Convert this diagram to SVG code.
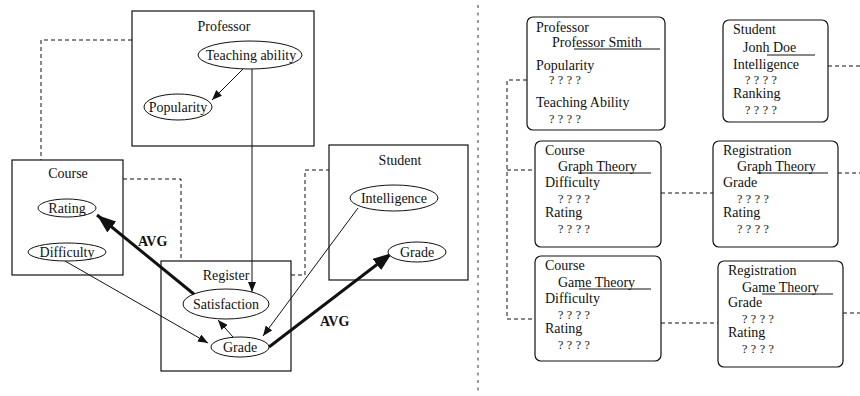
<svg xmlns="http://www.w3.org/2000/svg" width="860" height="396" viewBox="0 0 860 396">
<style>
text{font-family:"Liberation Serif","Times New Roman",serif;font-size:14px;fill:#111}
.c{text-anchor:middle}
.e{text-anchor:middle;dominant-baseline:central}
.b{font-weight:bold}
.q{font-size:12px;letter-spacing:3.5px}
.box{fill:#fff;stroke:#111;stroke-width:1.2}
.card{fill:#fff;stroke:#111;stroke-width:1.2}
.ell{fill:#fff;stroke:#111;stroke-width:1}
.dash{fill:none;stroke:#111;stroke-width:1;stroke-dasharray:4 3}
.thin{fill:none;stroke:#111;stroke-width:1}
.thick{fill:none;stroke:#111;stroke-width:3}
.ul{stroke:#111;stroke-width:1}
</style>
<defs>
<marker id="ah" markerUnits="userSpaceOnUse" markerWidth="11" markerHeight="8" refX="10" refY="4" orient="auto"><path d="M0,0 L10,4 L0,8 z" fill="#111"/></marker>
<marker id="ahb" markerUnits="userSpaceOnUse" markerWidth="20" markerHeight="14" refX="19" refY="7" orient="auto"><path d="M0,0 L19,7 L0,14 z" fill="#111"/></marker>
</defs>

<g id="divider"><line x1="478" y1="5" x2="478" y2="395" stroke="#333" stroke-width="1" stroke-dasharray="3 4.5"/></g>

<g id="connectors">
<path class="dash" d="M132,40 H41 V160"/>
<path class="dash" d="M123,179 H181 V261"/>
<path class="dash" d="M291,275 H305 V170 H329"/>
<path class="dash" d="M527,80 H507 V319 H535"/>
<path class="dash" d="M507,170 H535"/>
<path class="dash" d="M828,66 H860"/>
<path class="dash" d="M661,193 H713"/>
<path class="dash" d="M838,173 H860"/>
<path class="dash" d="M661,323 H718"/>
<path class="dash" d="M843,313 H860"/>
</g>

<g id="professor">
<rect class="box" x="132" y="11" width="182" height="135"/>
<text class="c" x="224" y="31">Professor</text>
</g>
<g id="course">
<rect class="box" x="12" y="160" width="111" height="115"/>
<text class="c" x="68" y="178">Course</text>
</g>
<g id="register">
<rect class="box" x="161" y="261" width="130" height="110"/>
<text class="c" x="226" y="280">Register</text>
</g>
<g id="student">
<rect class="box" x="329" y="145" width="139" height="135"/>
<text class="c" x="400" y="165">Student</text>
</g>

<g id="edges">
<line class="thin" x1="243" y1="69" x2="212" y2="100" marker-end="url(#ah)"/>
<line class="thin" x1="252" y1="69" x2="252" y2="292" marker-end="url(#ah)"/>
<line class="thin" x1="65" y1="261" x2="208" y2="343" marker-end="url(#ah)"/>
<line class="thin" x1="233" y1="337" x2="218" y2="320" marker-end="url(#ah)"/>
<line class="thin" x1="358" y1="208" x2="263" y2="336" marker-end="url(#ah)"/>
<line class="thick" x1="195" y1="295" x2="97" y2="215" marker-end="url(#ahb)"/>
<line class="thick" x1="269" y1="347" x2="392" y2="253" marker-end="url(#ahb)"/>
<text class="b" x="138" y="246">AVG</text>
<text class="b" x="320" y="326">AVG</text>
</g>

<g id="teaching-ability"><ellipse class="ell" cx="250" cy="55" rx="52" ry="14"/><text class="e" x="251" y="55">Teaching ability</text></g>
<g id="popularity"><ellipse class="ell" cx="178" cy="107" rx="34" ry="13"/><text class="e" x="178" y="107">Popularity</text></g>
<g id="rating"><ellipse class="ell" cx="67" cy="208" rx="29" ry="9"/><text class="e" x="67" y="208">Rating</text></g>
<g id="difficulty"><ellipse class="ell" cx="67" cy="252" rx="39" ry="9"/><text class="e" x="67" y="252">Difficulty</text></g>
<g id="satisfaction"><ellipse class="ell" cx="226" cy="304" rx="43" ry="15"/><text class="e" x="226" y="304">Satisfaction</text></g>
<g id="register-grade"><ellipse class="ell" cx="240" cy="347" rx="29" ry="10"/><text class="e" x="240" y="347">Grade</text></g>
<g id="intelligence"><ellipse class="ell" cx="394" cy="198" rx="44" ry="13"/><text class="e" x="394" y="198">Intelligence</text></g>
<g id="student-grade"><ellipse class="ell" cx="417" cy="252" rx="29" ry="10"/><text class="e" x="417" y="252">Grade</text></g>

<g id="card-professor">
<rect class="card" x="527" y="17" width="138" height="113" rx="6"/>
<text x="536" y="32">Professor</text>
<text x="552" y="47">Professor Smith</text>
<line class="ul" x1="574" y1="49" x2="660" y2="49"/>
<text x="536" y="70">Popularity</text>
<text class="q" x="549" y="84">????</text>
<text x="536" y="107">Teaching Ability</text>
<text class="q" x="549" y="123">????</text>
</g>
<g id="card-student">
<rect class="card" x="723" y="20" width="105" height="102" rx="6"/>
<text x="733" y="34">Student</text>
<text x="743" y="52">Jonh Doe</text>
<line class="ul" x1="767" y1="55" x2="815" y2="55"/>
<text x="733" y="69">Intelligence</text>
<text class="q" x="745" y="84">????</text>
<text x="733" y="98">Ranking</text>
<text class="q" x="745" y="114">????</text>
</g>
<g id="card-course-graph">
<rect class="card" x="535" y="141" width="126" height="106" rx="6"/>
<text x="545" y="155">Course</text>
<text x="558" y="171">Graph Theory</text>
<line class="ul" x1="578" y1="173" x2="651" y2="173"/>
<text x="545" y="187">Difficulty</text>
<text class="q" x="558" y="203">????</text>
<text x="545" y="217">Rating</text>
<text class="q" x="558" y="233">????</text>
</g>
<g id="card-registration-graph">
<rect class="card" x="713" y="141" width="125" height="106" rx="6"/>
<text x="723" y="155">Registration</text>
<text x="737" y="171">Graph Theory</text>
<line class="ul" x1="757" y1="173" x2="828" y2="173"/>
<text x="723" y="187">Grade</text>
<text class="q" x="737" y="203">????</text>
<text x="723" y="217">Rating</text>
<text class="q" x="737" y="233">????</text>
</g>
<g id="card-course-game">
<rect class="card" x="535" y="256" width="126" height="105" rx="6"/>
<text x="545" y="270">Course</text>
<text x="558" y="287">Game Theory</text>
<line class="ul" x1="579" y1="289" x2="651" y2="289"/>
<text x="545" y="303">Difficulty</text>
<text class="q" x="558" y="319">????</text>
<text x="545" y="333">Rating</text>
<text class="q" x="558" y="349">????</text>
</g>
<g id="card-registration-game">
<rect class="card" x="718" y="261" width="125" height="106" rx="6"/>
<text x="728" y="275">Registration</text>
<text x="742" y="292">Game Theory</text>
<line class="ul" x1="762" y1="294" x2="833" y2="294"/>
<text x="728" y="307">Grade</text>
<text class="q" x="742" y="323">????</text>
<text x="728" y="337">Rating</text>
<text class="q" x="742" y="353">????</text>
</g>
</svg>
